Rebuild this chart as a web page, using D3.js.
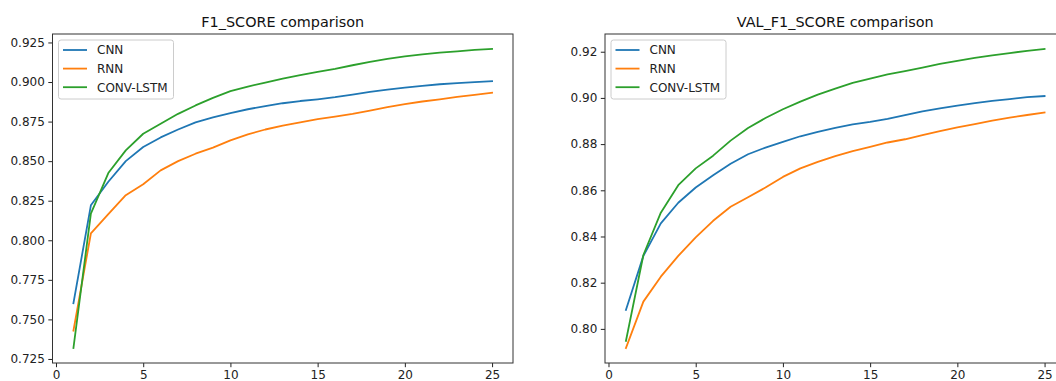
<!DOCTYPE html>
<html>
<head>
<meta charset="utf-8">
<script src="https://cdn.jsdelivr.net/npm/d3@7"></script>
<style>
  body { margin: 0; background: #fff; }
  svg { display: block; font-family: "DejaVu Sans", sans-serif; }
</style>
</head>
<body>
<svg id="chart" width="1056" height="381"></svg>
<script>
// epochs 1..25
var epochs = d3.range(1, 26);
var seriesNames = ["CNN", "RNN", "CONV-LSTM"];
var colors = ["#1f77b4", "#ff7f0e", "#2ca02c"];

// training F1 score
var f1Cnn = [0.7602, 0.8221, 0.8370, 0.8500, 0.8589, 0.8650, 0.8700, 0.8745, 0.8776, 0.8804,
  0.8828, 0.8848, 0.8866, 0.8880, 0.8891, 0.8904, 0.8921, 0.8938, 0.8952, 0.8965,
  0.8976, 0.8986, 0.8993, 0.8999, 0.9005];
var f1Rnn = [0.7429, 0.8043, 0.8165, 0.8285, 0.8354, 0.8442, 0.8500, 0.8547, 0.8585, 0.8631,
  0.8669, 0.8700, 0.8724, 0.8745, 0.8766, 0.8782, 0.8799, 0.8820, 0.8841, 0.8860,
  0.8877, 0.8891, 0.8906, 0.8919, 0.8932];
var f1ConvLstm = [0.7319, 0.8169, 0.8425, 0.8568, 0.8673, 0.8736, 0.8799, 0.8852, 0.8900, 0.8942,
  0.8971, 0.8997, 0.9022, 0.9043, 0.9064, 0.9083, 0.9106, 0.9127, 0.9146, 0.9162,
  0.9175, 0.9186, 0.9194, 0.9203, 0.9209];

// validation F1 score
var valCnn = [0.8082, 0.8316, 0.8457, 0.8546, 0.8612, 0.8665, 0.8715, 0.8756, 0.8785, 0.8810,
  0.8834, 0.8853, 0.8870, 0.8885, 0.8896, 0.8909, 0.8926, 0.8942, 0.8955, 0.8967,
  0.8977, 0.8987, 0.8995, 0.9003, 0.9008];
var valRnn = [0.7917, 0.8118, 0.8226, 0.8316, 0.8396, 0.8468, 0.8529, 0.8570, 0.8612, 0.8658,
  0.8695, 0.8723, 0.8748, 0.8770, 0.8788, 0.8807, 0.8821, 0.8839, 0.8856, 0.8872,
  0.8887, 0.8902, 0.8915, 0.8926, 0.8937];
var valConvLstm = [0.7948, 0.8320, 0.8503, 0.8622, 0.8695, 0.8750, 0.8815, 0.8870, 0.8913, 0.8951,
  0.8984, 0.9014, 0.9040, 0.9065, 0.9084, 0.9102, 0.9116, 0.9131, 0.9147, 0.9160,
  0.9173, 0.9184, 0.9194, 0.9204, 0.9212];

// tick labels
var xTicks = [0, 5, 10, 15, 20, 25];
var f1Ticks = [0.725, 0.750, 0.775, 0.800, 0.825, 0.850, 0.875, 0.900, 0.925];
var valTicks = [0.80, 0.82, 0.84, 0.86, 0.88, 0.90, 0.92];

var svg = d3.select("#chart");

// panel geometry (matplotlib-like subplots)
var panelTop = 34, panelBottom = 363, panelWidth = 460.5;

function drawPanel(left, title, series, yTicks, fmt, clipId) {
  // x and y domains with 5% margins like matplotlib
  var xPad = (d3.max(epochs) - d3.min(epochs)) * 0.05;
  var all = d3.merge(series);
  var yMin = d3.min(all), yMax = d3.max(all);
  var yPad = (yMax - yMin) * 0.05;

  var x = d3.scaleLinear()
    .domain([d3.min(epochs) - xPad, d3.max(epochs) + xPad])
    .range([left, left + panelWidth]);
  var y = d3.scaleLinear()
    .domain([yMin - yPad, yMax + yPad])
    .range([panelBottom, panelTop]);

  svg.append("clipPath").attr("id", clipId)
    .append("rect")
    .attr("x", left).attr("y", panelTop)
    .attr("width", panelWidth).attr("height", panelBottom - panelTop);

  // lines
  var line = d3.line()
    .x(function(d, i) { return x(epochs[i]); })
    .y(function(d) { return y(d); });
  var g = svg.append("g").attr("clip-path", "url(#" + clipId + ")");
  series.forEach(function(s, k) {
    g.append("path")
      .datum(s)
      .attr("d", line)
      .attr("fill", "none")
      .attr("stroke", colors[k])
      .attr("stroke-width", 1.8)
      .attr("stroke-linejoin", "round")
      .attr("stroke-linecap", "square");
  });

  // axes
  var xAxis = svg.append("g")
    .attr("transform", "translate(0," + panelBottom + ")")
    .call(d3.axisBottom(x).tickValues(xTicks).tickSize(4.2).tickPadding(3.5).tickFormat(d3.format("d")));
  var yAxis = svg.append("g")
    .attr("transform", "translate(" + left + ",0)")
    .call(d3.axisLeft(y).tickValues(yTicks).tickSize(4.2).tickPadding(3.5).tickFormat(d3.format(fmt)));
  [xAxis, yAxis].forEach(function(a) {
    a.select(".domain").remove();
    a.selectAll("text").style("font-size", "12px").attr("fill", "#222")
      .style("font-family", "DejaVu Sans, sans-serif");
    a.selectAll("line").attr("stroke", "#222").attr("stroke-width", 1);
  });

  // spines
  svg.append("rect")
    .attr("x", left).attr("y", panelTop)
    .attr("width", panelWidth).attr("height", panelBottom - panelTop)
    .attr("fill", "none")
    .attr("stroke", "#333")
    .attr("stroke-width", 1);

  // title
  svg.append("text")
    .attr("x", left + panelWidth / 2)
    .attr("y", panelTop - 7.5)
    .attr("text-anchor", "middle")
    .style("font-size", "14.4px")
    .attr("fill", "#111")
    .text(title);

  // legend
  var lg = svg.append("g").attr("transform", "translate(" + (left + 6) + "," + (panelTop + 6) + ")");
  lg.append("rect")
    .attr("width", 115).attr("height", 59)
    .attr("rx", 2.5)
    .attr("fill", "#fff").attr("fill-opacity", 0.8)
    .attr("stroke", "#ccc").attr("stroke-width", 1);
  seriesNames.forEach(function(name, k) {
    var ry = 10 + k * 18.6;
    lg.append("line")
      .attr("x1", 4.5).attr("x2", 28.5)
      .attr("y1", ry).attr("y2", ry)
      .attr("stroke", colors[k]).attr("stroke-width", 1.8);
    lg.append("text")
      .attr("x", 38.5).attr("y", ry)
      .attr("dy", "0.36em")
      .style("font-size", "12px")
      .attr("fill", "#222")
      .text(name);
  });
}

drawPanel(52.5, "F1_SCORE comparison", [f1Cnn, f1Rnn, f1ConvLstm], f1Ticks, ".3f", "clipA");
drawPanel(605, "VAL_F1_SCORE comparison", [valCnn, valRnn, valConvLstm], valTicks, ".2f", "clipB");
</script>
</body>
</html>
